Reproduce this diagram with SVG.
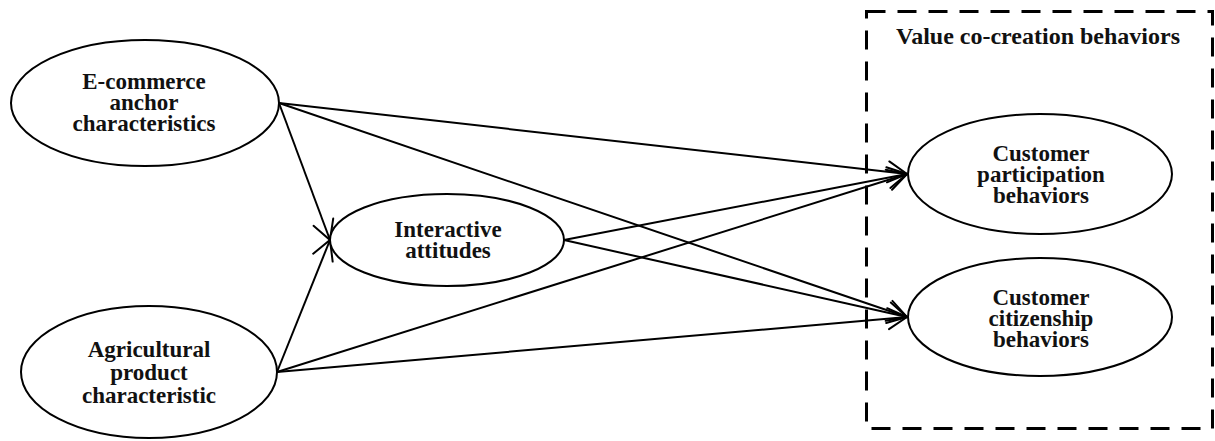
<svg xmlns="http://www.w3.org/2000/svg" width="1215" height="441" viewBox="0 0 1215 441">
<style>
.node ellipse{fill:#fff;stroke:#000;stroke-width:2}
.lbl{font-family:"Liberation Serif","Times New Roman",serif;font-weight:bold;font-size:23px;text-anchor:middle;fill:#111}
.edge{stroke:#000;stroke-width:2;fill:none;marker-end:url(#arr)}
</style>
<defs>
<marker id="arr" markerUnits="userSpaceOnUse" markerWidth="40" markerHeight="40" refX="0" refY="0" orient="auto" overflow="visible">
<path d="M-19,-10.5 L0,0 L-19,10.5" fill="none" stroke="#000" stroke-width="2" stroke-linecap="round" stroke-linejoin="miter"/>
</marker>
</defs>
<rect id="group-box" x="866.5" y="11.5" width="346" height="417" fill="none" stroke="#000" stroke-width="3" stroke-dasharray="19 12"/>
<text class="lbl" x="1038" y="44" style="font-size:24px">Value co-creation behaviors</text>
<g id="connectors">
<line class="edge" x1="279" y1="103" x2="330" y2="240"/>
<line class="edge" x1="277" y1="372" x2="330" y2="240"/>
<line class="edge" x1="279" y1="103" x2="907" y2="174"/>
<line class="edge" x1="279" y1="103" x2="907" y2="317"/>
<line class="edge" x1="564" y1="240" x2="907" y2="174"/>
<line class="edge" x1="564" y1="240" x2="907" y2="317"/>
<line class="edge" x1="277" y1="372" x2="907" y2="174"/>
<line class="edge" x1="277" y1="372" x2="907" y2="317"/>
</g>
<g id="ecommerce" class="node">
<ellipse cx="145" cy="103" rx="134" ry="63"/>
<text class="lbl" x="144" y="89">E-commerce</text>
<text class="lbl" x="144" y="110">anchor</text>
<text class="lbl" x="144" y="131">characteristics</text>
</g>
<g id="agricultural" class="node">
<ellipse cx="149" cy="372" rx="128" ry="66"/>
<text class="lbl" x="149" y="357">Agricultural</text>
<text class="lbl" x="149" y="380">product</text>
<text class="lbl" x="149" y="403">characteristic</text>
</g>
<g id="interactive" class="node">
<ellipse cx="447" cy="240" rx="117" ry="46"/>
<text class="lbl" x="448" y="237">Interactive</text>
<text class="lbl" x="448" y="258">attitudes</text>
</g>
<g id="participation" class="node">
<ellipse cx="1040" cy="174" rx="132" ry="60"/>
<text class="lbl" x="1041" y="161">Customer</text>
<text class="lbl" x="1041" y="182">participation</text>
<text class="lbl" x="1041" y="203">behaviors</text>
</g>
<g id="citizenship" class="node">
<ellipse cx="1040" cy="317" rx="132" ry="59"/>
<text class="lbl" x="1041" y="305">Customer</text>
<text class="lbl" x="1041" y="326">citizenship</text>
<text class="lbl" x="1041" y="347">behaviors</text>
</g>
</svg>
